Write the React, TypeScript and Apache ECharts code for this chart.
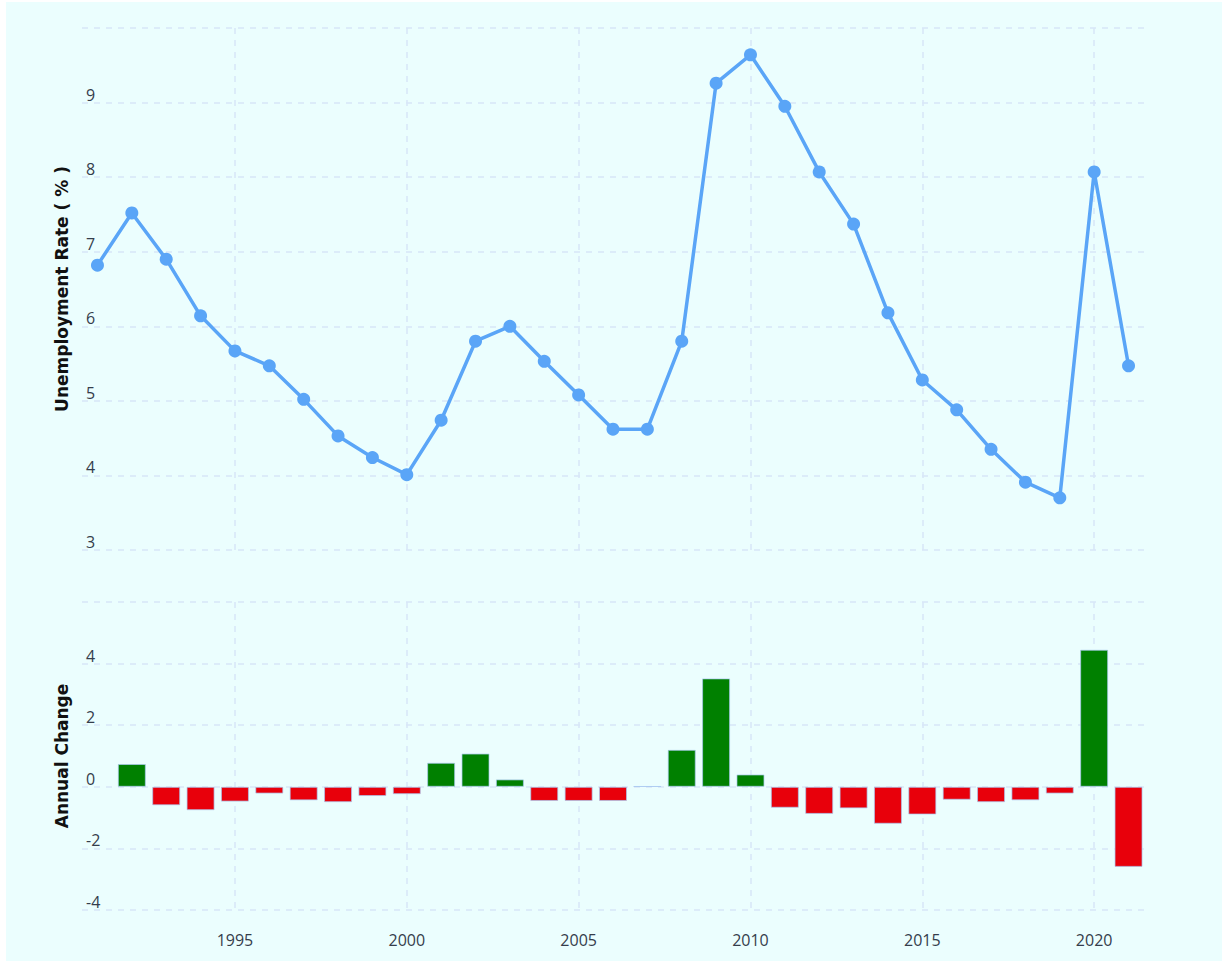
import React, { useEffect, useRef } from "react";
import * as echarts from "echarts";

const years = [1991,1992,1993,1994,1995,1996,1997,1998,1999,2000,2001,2002,2003,2004,2005,2006,2007,2008,2009,2010,2011,2012,2013,2014,2015,2016,2017,2018,2019,2020,2021];
const rate = [6.82,7.52,6.90,6.14,5.67,5.47,5.02,4.53,4.24,4.01,4.74,5.80,6.00,5.53,5.08,4.62,4.62,5.80,9.26,9.64,8.95,8.07,7.37,6.18,5.28,4.88,4.35,3.91,3.70,8.07,5.47];
const changeYears = [1992,1993,1994,1995,1996,1997,1998,1999,2000,2001,2002,2003,2004,2005,2006,2007,2008,2009,2010,2011,2012,2013,2014,2015,2016,2017,2018,2019,2020,2021];
const change = [0.74,-0.6,-0.76,-0.48,-0.22,-0.44,-0.5,-0.3,-0.24,0.78,1.08,0.24,-0.46,-0.46,-0.46,0.02,1.2,3.52,0.4,-0.68,-0.88,-0.7,-1.2,-0.9,-0.42,-0.5,-0.44,-0.22,4.45,-2.6];
const xTicks = [1995, 2000, 2005, 2010, 2015, 2020];

const gridColor = "#d8e6f8";
const labelColor = "#353d4c";

export default function App() {
  const ref = useRef<HTMLDivElement>(null);
  useEffect(() => {
    if (!ref.current) return;
    const chart = echarts.init(ref.current, null, { renderer: "svg" });
    const xCommon = {
      type: "value",
      min: 1990.55,
      max: 2021.45,
      axisLine: { show: false },
      axisTick: { show: false, customValues: xTicks },
      splitLine: { show: true, lineStyle: { color: gridColor, type: [6, 6], width: 1.5 } },
    };
    const yLabel = {
      inside: true,
      margin: 4,
      verticalAlign: "bottom",
      align: "left",
      color: labelColor,
      fontSize: 16,
      fontFamily: "Open Sans",
      showMaxLabel: false,
    };
    const nameStyle = {
      fontFamily: "DejaVu Sans",
      fontWeight: "bold",
      fontSize: 17,
      color: "#111",
    };
    chart.setOption({
      animation: false,
      backgroundColor: "#ebfefe",
      grid: [
        { left: 76, right: 78, top: 26, height: 522 },
        { left: 76, right: 78, top: 600, height: 308 },
      ],
      xAxis: [
        { ...xCommon, gridIndex: 0, axisLabel: { show: false, customValues: xTicks } },
        {
          ...xCommon,
          gridIndex: 1,
          axisLabel: {
            show: true,
            customValues: xTicks,
            color: labelColor,
            fontSize: 16,
            fontFamily: "Open Sans",
            margin: 22,
            formatter: (v: number) => String(Math.round(v)),
          },
        },
      ],
      yAxis: [
        {
          type: "value",
          gridIndex: 0,
          min: 3,
          max: 10,
          interval: 1,
          axisLine: { show: false },
          axisTick: { show: false },
          axisLabel: yLabel,
          splitLine: { lineStyle: { color: gridColor, type: [6, 6], width: 1.5 } },
          name: "Unemployment Rate ( % )",
          nameLocation: "middle",
          nameGap: 12,
          nameTextStyle: nameStyle,
        },
        {
          type: "value",
          gridIndex: 1,
          min: -4,
          max: 6,
          interval: 2,
          axisLine: { show: false },
          axisTick: { show: false },
          axisLabel: yLabel,
          splitLine: { lineStyle: { color: gridColor, type: [6, 6], width: 1.5 } },
          name: "Annual Change",
          nameLocation: "middle",
          nameGap: 12,
          nameTextStyle: nameStyle,
        },
      ],
      series: [
        {
          type: "line",
          xAxisIndex: 0,
          yAxisIndex: 0,
          data: years.map((y, i) => [y, rate[i]]),
          symbol: "circle",
          symbolSize: 13,
          lineStyle: { color: "#5aa5f7", width: 3.5 },
          itemStyle: { color: "#5aa5f7" },
        },
        {
          type: "bar",
          xAxisIndex: 1,
          yAxisIndex: 1,
          barWidth: 28,
          data: changeYears.map((y, i) => ({
            value: [y, change[i]],
            itemStyle: {
              color: change[i] >= 0 ? "#008000" : "#e8000b",
              borderColor: "rgba(170,200,240,0.7)",
              borderWidth: 1,
            },
          })),
        },
      ],
    });
    return () => chart.dispose();
  }, []);
  return (
    <div
      ref={ref}
      style={{ position: "absolute", left: 6, top: 2, width: 1216, height: 959 }}
    />
  );
}
